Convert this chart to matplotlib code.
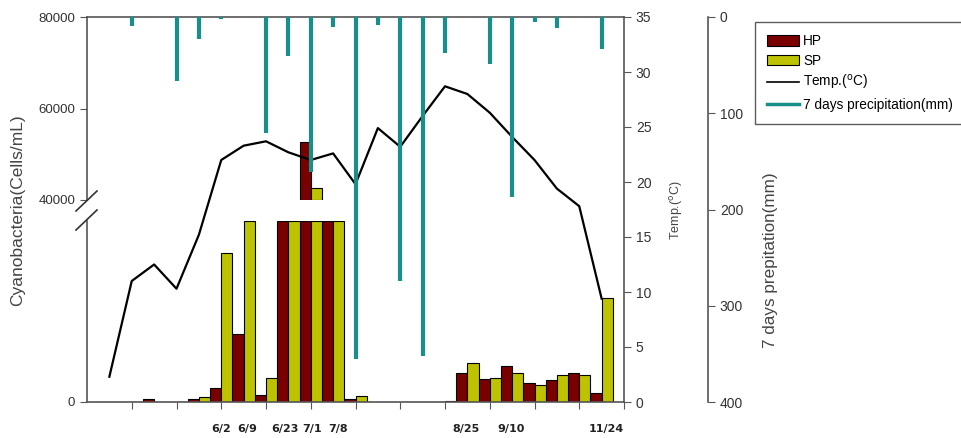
import matplotlib
matplotlib.use('Agg')
import matplotlib.pyplot as plt
from matplotlib.patches import Patch
from matplotlib.lines import Line2D
import numpy as np

plt.rcParams['font.family'] = ['Liberation Sans', 'DejaVu Sans']

# sampling positions (half a tick = one sample)
positions = [0.5, 1.0, 1.5, 2.0, 2.5, 3.0, 3.5, 4.0, 4.5, 5.0, 5.5, 6.0,
             6.5, 7.0, 7.5, 8.0, 8.5, 9.0, 9.5, 10.0, 10.5, 11.0, 11.5]

# cyanobacteria (cells/mL), off-scale bars estimated
hp = [0, 0, 170, 0, 180, 770, 3750, 390, 30000, 52650, 30000, 180,
      0, 0, 0, 0, 1600, 1250, 1970, 1050, 1230, 1620, 500]
sp = [0, 0, 0, 0, 280, 8230, 30000, 1330, 30000, 42600, 30000, 330,
      0, 0, 0, 50, 2170, 1350, 1600, 920, 1490, 1490, 5740]

temp = [2.3, 11.0, 12.5, 10.3, 15.2, 22.0, 23.3, 23.7, 22.7, 22.0, 22.6, 19.8,
        24.9, 23.2, 26.0, 28.7, 28.0, 26.3, 24.1, 22.0, 19.4, 17.8, 9.4]

precip = [0, 9, 0, 67, 23, 2, 0, 120, 41, 161, 10, 355,
          8, 274, 352, 37, 0, 49, 187, 5, 11, 0, 33]

# date labels sit slightly off the sample positions in the original
date_pos = [3.0, 3.58, 4.42, 5.02, 5.62, 8.46, 9.47, 11.6]
date_labels = ['6/2', '6/9', '6/23', '7/1', '7/8', '8/25', '9/10', '11/24']

hp_color = '#7a0000'
sp_color = '#bdc300'
rain_color = '#17908c'
spine_color = '#555555'
bw = 0.25
low_max = 10000
high_min, high_max = 40000, 80000

W, H = 962, 438
fig = plt.figure(figsize=(W / 100, H / 100), dpi=100)

left, right = 87 / W, 624 / W
top_px, brk_hi, brk_lo, bot_px = 17, 200, 221, 402

def fy(px):
    return 1 - px / H

ax_hi = fig.add_axes([left, fy(brk_hi), right - left, (brk_hi - top_px) / H])
ax_lo = fig.add_axes([left, fy(bot_px), right - left, (bot_px - brk_lo) / H])
ax_t = fig.add_axes([left, fy(bot_px), right - left, (bot_px - top_px) / H])
ax_p = fig.add_axes([left, fy(bot_px), right - left, (bot_px - top_px) / H])

x = np.array(positions)
hp_a = np.array(hp, dtype=float)
sp_a = np.array(sp, dtype=float)

# lower segment
ax_lo.bar(x - bw / 2, np.minimum(hp_a, low_max), bw, color=hp_color, edgecolor='black', linewidth=0.8)
ax_lo.bar(x + bw / 2, np.minimum(sp_a, low_max), bw, color=sp_color, edgecolor='black', linewidth=0.8)
ax_lo.set_ylim(0, low_max)
ax_lo.set_xlim(0, 12)
ax_lo.set_yticks([0])
ax_lo.xaxis.remove_overlapping_locs = False
ax_lo.set_xticks(range(1, 13))
ax_lo.set_xticklabels([])
ax_lo.set_xticks(date_pos, date_labels, minor=True)
ax_lo.tick_params(axis='x', which='minor', length=0, pad=16)
for lab in ax_lo.get_xticklabels(minor=True):
    lab.set_fontweight('bold')
    lab.set_fontsize(8)
    lab.set_family('DejaVu Sans')
    lab.set_color('#222222')
ax_lo.tick_params(axis='both', which='major', direction='out', length=5, color=spine_color,
                  labelsize=9.5, labelcolor='#333333')
for s in ['top', 'right']:
    ax_lo.spines[s].set_visible(False)
for s in ['left', 'bottom']:
    ax_lo.spines[s].set_color(spine_color)
    ax_lo.spines[s].set_linewidth(1.2)

# upper segment
m_hp = hp_a > high_min
m_sp = sp_a > high_min
ax_hi.bar(x[m_hp] - bw / 2, hp_a[m_hp] - high_min, bw, bottom=high_min, color=hp_color,
          edgecolor='black', linewidth=0.8)
ax_hi.bar(x[m_sp] + bw / 2, sp_a[m_sp] - high_min, bw, bottom=high_min, color=sp_color,
          edgecolor='black', linewidth=0.8)
ax_hi.set_ylim(high_min, high_max)
ax_hi.set_xlim(0, 12)
ax_hi.set_yticks([40000, 60000, 80000])
ax_hi.set_xticks([])
ax_hi.tick_params(axis='y', direction='out', length=5, color=spine_color, labelsize=9.5,
                  labelcolor='#333333')
for s in ['bottom', 'right']:
    ax_hi.spines[s].set_visible(False)
for s in ['left', 'top']:
    ax_hi.spines[s].set_color(spine_color)
    ax_hi.spines[s].set_linewidth(1.2)

# break marks
for yb in [brk_hi + 1, brk_lo - 1]:
    fig.add_artist(Line2D([76 / W, 97 / W], [fy(yb + 10), fy(yb - 10)], color='#333333', lw=1.2))

# temperature
ax_t.patch.set_visible(False)
ax_t.plot(x, temp, color='black', lw=1.6)
ax_t.set_xlim(0, 12)
ax_t.set_ylim(0, 35)
ax_t.set_yticks(range(0, 36, 5))
ax_t.yaxis.tick_right()
ax_t.set_xticks([])
ax_t.tick_params(axis='y', direction='out', length=5, color=spine_color, labelsize=10,
                 labelcolor='#333333')
for s in ['left', 'top', 'bottom']:
    ax_t.spines[s].set_visible(False)
ax_t.spines['right'].set_color(spine_color)
ax_t.spines['right'].set_linewidth(1.2)

# precipitation
ax_p.patch.set_visible(False)
ax_p.vlines(x, 0, precip, color=rain_color, lw=3)
ax_p.set_xlim(0, 12)
ax_p.set_ylim(400, 0)
ax_p.set_yticks(range(0, 401, 100))
ax_p.yaxis.tick_right()
ax_p.set_xticks([])
ax_p.spines['right'].set_position(('axes', (708 - 87) / (624 - 87)))
ax_p.tick_params(axis='y', direction='out', length=5, color=spine_color, labelsize=10,
                 labelcolor='#333333')
for s in ['left', 'top', 'bottom']:
    ax_p.spines[s].set_visible(False)
ax_p.spines['right'].set_color(spine_color)
ax_p.spines['right'].set_linewidth(1.2)

# axis titles
fig.text(18 / W, fy(210), 'Cyanobacteria(Cells/mL)', rotation=90, ha='center', va='center',
         fontsize=12.5, color='#444444')
fig.text(677 / W, fy(210), r'Temp.($^{\rm o}$C)', rotation=90, ha='center', va='center',
         fontsize=9, color='#444444')
fig.text(771 / W, fy(260), '7 days prepitation(mm)', rotation=90, ha='center', va='center',
         fontsize=12.3, color='#444444')

handles = [Patch(facecolor=hp_color, edgecolor='black', lw=0.8, label='HP'),
           Patch(facecolor=sp_color, edgecolor='black', lw=0.8, label='SP'),
           Line2D([], [], color='black', lw=1.2, label=r'Temp.($^{\rm o}$C)'),
           Line2D([], [], color=rain_color, lw=2.5, label='7 days precipitation(mm)')]
leg = fig.legend(handles=handles, loc='upper left', bbox_to_anchor=(755 / W, fy(22)),
                 frameon=True, fancybox=False, edgecolor='#333333', fontsize=9.8,
                 handlelength=2.3, handleheight=0.8, labelspacing=0.4, borderpad=0.9,
                 handletextpad=0.35, borderaxespad=0)
leg.get_frame().set_linewidth(1.0)

fig.savefig('out.png', dpi=100)
